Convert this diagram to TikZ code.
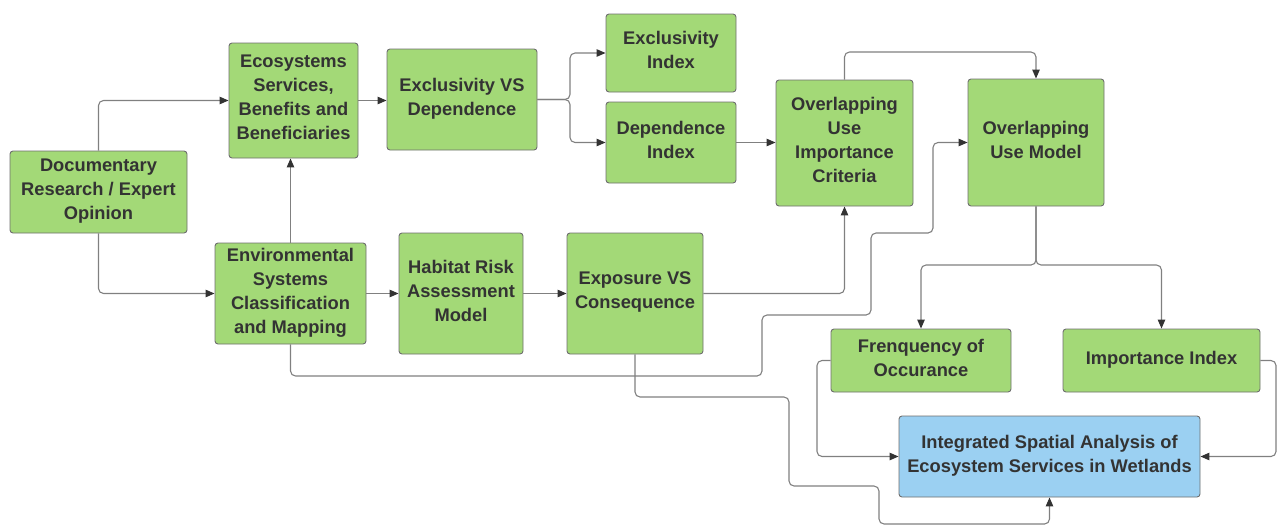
\documentclass[tikz,border=0pt]{standalone}
\usepackage{fontspec}
\setmainfont{Liberation Sans}
\usetikzlibrary{arrows.meta}
\definecolor{boxgreen}{HTML}{A3D977}
\definecolor{boxblue}{HTML}{9BD0F2}
\definecolor{edgegray}{HTML}{6E6E6E}
\definecolor{linegray}{HTML}{808080}
\definecolor{txt}{HTML}{333333}
\begin{document}
\begin{tikzpicture}[x=1pt,y=-1pt,
  box/.style={draw=edgegray, line width=0.9pt, fill=boxgreen, rounded corners=3pt,
    align=center, text=txt, inner sep=0pt, text depth=6pt,
    font=\bfseries\fontsize{18.3}{24}\selectfont},
  bluebox/.style={box, fill=boxblue},
  link/.style={draw=linegray, line width=1.1pt, rounded corners=5pt,
    -{Triangle[length=9pt,width=7.5pt,color=txt]}}]
\useasboundingbox (0,0) rectangle (1277,525);

% process boxes
\node[box, minimum width=177, minimum height=82] (doc) at (98.5,192) {Documentary\\Research / Expert\\Opinion};
\node[box, minimum width=129, minimum height=115] (esbb) at (293.5,100.5) {Ecosystems\\Services,\\Benefits and\\Beneficiaries};
\node[box, minimum width=150, minimum height=101] (exvs) at (462,99.5) {Exclusivity VS\\Dependence};
\node[box, minimum width=130, minimum height=78] (exidx) at (671,53) {Exclusivity\\Index};
\node[box, minimum width=130, minimum height=81] (depidx) at (671,142.5) {Dependence\\Index};
\node[box, minimum width=137, minimum height=126] (ouic) at (844.5,143) {Overlapping\\Use\\Importance\\Criteria};
\node[box, minimum width=136, minimum height=127] (oum) at (1036,142.5) {Overlapping\\Use Model};
\node[box, minimum width=151, minimum height=101] (escm) at (290.5,293.5) {Environmental\\Systems\\Classification\\and Mapping};
\node[box, minimum width=124, minimum height=121] (hram) at (461,293.5) {Habitat Risk\\Assessment\\Model};
\node[box, minimum width=136, minimum height=121] (expvs) at (635,293.5) {Exposure VS\\Consequence};
\node[box, minimum width=180, minimum height=63] (freq) at (921,360.5) {Frenquency of\\Occurance};
\node[box, minimum width=197, minimum height=63] (imp) at (1161.5,360.5) {Importance Index};
\node[bluebox, minimum width=301, minimum height=81] (isa) at (1049.5,456.5) {Integrated Spatial Analysis of\\Ecosystem Services in Wetlands};

% connectors
\draw[link] (doc.north) |- (esbb.west);
\draw[link] (doc.south) |- (escm.west);
\draw[link] (escm.north) -- (escm.north |- esbb.south);
\draw[link] (esbb.east) -- (esbb.east -| exvs.west);
\draw[link] (exvs.east) -- (570,99.5) |- (exidx.west);
\draw[link] (exvs.east) -- (570,99.5) |- (depidx.west);
\draw[link] (depidx.east) -- (depidx.east -| ouic.west);
\draw[link] (ouic.north) -- (844.5,52) -- (1036,52) -- (oum.north);
\draw[link] (escm.east) -- (escm.east -| hram.west);
\draw[link] (hram.east) -- (hram.east -| expvs.west);
\draw[link] (expvs.east) -| (ouic.south);
\draw[link] (escm.south) |- (762,376) |- (871,315) |- (933,233) |- (oum.west);
\draw[link] (expvs.south) |- (789,397) |- (879,486) |- (1049.5,524) -- (isa.south);
\draw[link] (oum.south) -- (1036,265) -| (freq.north);
\draw[link] (oum.south) -- (1036,265) -| (imp.north);
\draw[link] (freq.west) -- (817,360.5) |- (isa.west);
\draw[link] (imp.east) -- (1276,360.5) |- (isa.east);
\end{tikzpicture}
\end{document}
